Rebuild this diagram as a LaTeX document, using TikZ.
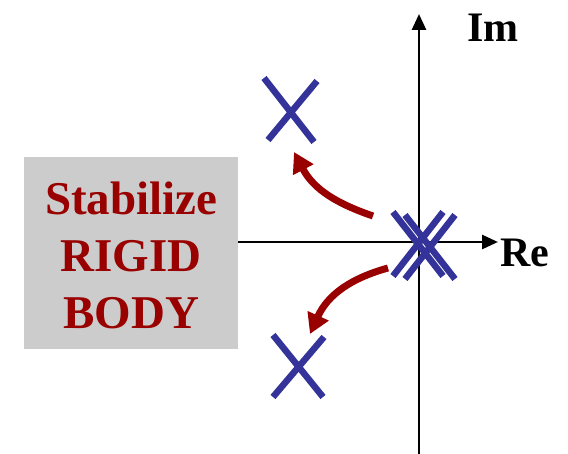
\documentclass[tikz,border=0pt]{standalone}
\usepackage{fontspec}
\setmainfont{Liberation Serif}
\usetikzlibrary{arrows.meta,calc}
\definecolor{polecol}{RGB}{51,51,153}
\definecolor{arrcol}{RGB}{153,0,0}
\definecolor{boxgray}{RGB}{204,204,204}
\tikzset{
  axis/.style={line width=2.8pt,-{Triangle[length=16pt,width=14pt]}},
  pole/.style={polecol,line width=6.5pt},
  movearrow/.style={arrcol,line width=7pt,-{Triangle[length=20pt,width=22pt]}},
  boxtext/.style={font=\bfseries\fontsize{47}{57}\selectfont,text=arrcol,align=center},
  axlabel/.style={font=\bfseries\fontsize{42}{46}\selectfont}
}
\begin{document}
\begin{tikzpicture}[x=1pt,y=-1pt]
\useasboundingbox (0,0) rectangle (568,454);
% box
\node[fill=boxgray,minimum width=214pt,minimum height=192pt,inner sep=0pt,anchor=north west] (box) at (24,157) {};
\node[boxtext] (txt) at ($(box.center)+(0,2)$) {Stabilize\\RIGID\\BODY};
% axes
\coordinate (rorigin) at (238,242);
\coordinate (rend) at (498,242);
\coordinate (ibot) at (419,454);
\coordinate (itop) at (419,14);
\draw[axis] (rorigin) -- (rend);
\draw[axis] (ibot) -- (itop);
\node[axlabel,anchor=west] (im) at (464,28) {Im};
\node[axlabel,anchor=west] (re) at (497,253) {Re};
% double pole at origin
\coordinate (p1) at (418,244);
\coordinate (p2) at (430,247);
\draw[pole] ($(p1)+(-25,-32)$) -- ($(p1)+(25,32)$);
\draw[pole] ($(p1)+(25,-32)$) -- ($(p1)+(-25,32)$);
\draw[pole] ($(p2)+(-25,-32)$) -- ($(p2)+(25,32)$);
\draw[pole] ($(p2)+(25,-32)$) -- ($(p2)+(-25,32)$);
% upper pole
\coordinate (pu) at (290,110);
\draw[pole] ($(pu)+(-26,-32)$) -- ($(pu)+(24,32)$);
\draw[pole] ($(pu)+(27,-29)$) -- ($(pu)+(-22,30)$);
% lower pole
\coordinate (pl) at (298,366);
\draw[pole] ($(pl)+(-25,-31)$) -- ($(pl)+(25,31)$);
\draw[pole] ($(pl)+(26,-29)$) -- ($(pl)+(-25,31)$);
% arrows
\coordinate (ua) at (373,216);
\coordinate (ub) at (294,152);
\draw[movearrow] (ua) .. controls (338,204) and (314,190) .. (ub);
\coordinate (la) at (388,268);
\coordinate (lb) at (310,334);
\draw[movearrow] (la) .. controls (352,278) and (328,294) .. (lb);
\end{tikzpicture}
\end{document}
